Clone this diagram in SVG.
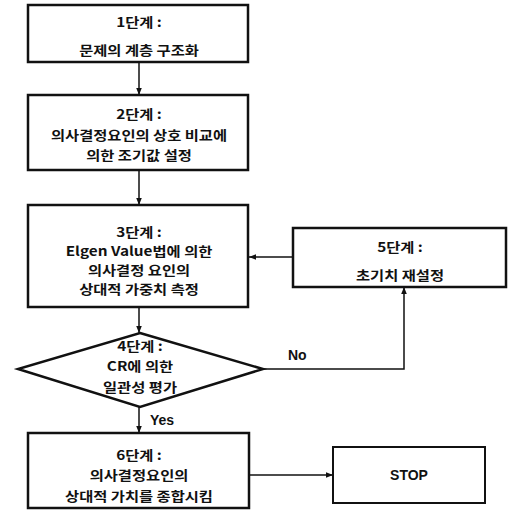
<svg xmlns="http://www.w3.org/2000/svg" width="516" height="521" viewBox="0 0 516 521">
<defs>
<marker id="ah" viewBox="0 0 10 10" refX="10" refY="5" markerWidth="7" markerHeight="7" orient="auto" markerUnits="userSpaceOnUse">
<path d="M0,1 L10,5 L0,9 Z" fill="#111"/>
</marker>
</defs>
<style>
.box{fill:#fff;stroke:#111;stroke-width:2.5}
.thin{fill:#fff;stroke:#111;stroke-width:2}
.t{font-family:"Noto Sans CJK KR","Noto Sans",sans-serif;font-size:13px;font-weight:bold;fill:#111;text-anchor:middle;dominant-baseline:central}
.l{font-family:"Liberation Sans","Noto Sans CJK KR",sans-serif;font-size:14px;font-weight:bold;fill:#111;dominant-baseline:central}
.c{fill:none;stroke:#111;stroke-width:1.5}
</style>
<rect width="516" height="521" fill="#fff"/>
<g id="connectors">
<line class="c" x1="139" y1="62" x2="139" y2="95" marker-end="url(#ah)"/>
<line class="c" x1="139" y1="170" x2="139" y2="205" marker-end="url(#ah)"/>
<line class="c" x1="293" y1="257" x2="249" y2="257" marker-end="url(#ah)"/>
<line class="c" x1="139" y1="307" x2="139" y2="333" marker-end="url(#ah)"/>
<polyline class="c" points="263,369 404,369 404,287" marker-end="url(#ah)"/>
<line class="c" x1="139" y1="407" x2="139" y2="433" marker-end="url(#ah)"/>
<line class="c" x1="249" y1="475" x2="333" y2="475" marker-end="url(#ah)"/>
<text class="l" x="288" y="355">No</text>
<text class="l" x="150" y="420">Yes</text>
</g>
<g id="step1">
<rect class="box" x="28" y="5" width="220" height="57"/>
<g transform="translate(139,0) scale(1.18,1)">
<text class="t" x="0" y="22">1단계 :</text>
<text class="t" x="0" y="50">문제의 계층 구조화</text>
</g>
</g>
<g id="step2">
<rect class="box" x="28" y="95" width="220" height="75"/>
<g transform="translate(139,0) scale(1.18,1)">
<text class="t" x="0" y="114">2단계 :</text>
<text class="t" x="0" y="135">의사결정요인의 상호 비교에</text>
<text class="t" x="0" y="155">의한 조기값 설정</text>
</g>
</g>
<g id="step3">
<rect class="box" x="28" y="205" width="220" height="102"/>
<g transform="translate(139,0) scale(1.18,1)">
<text class="t" x="0" y="232">3단계 :</text>
<text class="t" x="0" y="251">Elgen Value법에 의한</text>
<text class="t" x="0" y="270">의사결정 요인의</text>
<text class="t" x="0" y="289">상대적 가중치 측정</text>
</g>
</g>
<g id="step5">
<rect class="box" x="293" y="228" width="213" height="59"/>
<g transform="translate(400,0) scale(1.18,1)">
<text class="t" x="0" y="247">5단계 :</text>
<text class="t" x="0" y="275">초기치 재설정</text>
</g>
</g>
<g id="step4">
<polygon class="box" points="140,333 263,369 140,407 18,369"/>
<g transform="translate(140,0) scale(1.18,1)">
<text class="t" x="0" y="346">4단계 :</text>
<text class="t" x="0" y="366">CR에 의한</text>
<text class="t" x="0" y="387">일관성 평가</text>
</g>
</g>
<g id="step6">
<rect class="box" x="28" y="433" width="221" height="75"/>
<g transform="translate(139,0) scale(1.18,1)">
<text class="t" x="0" y="455">6단계 :</text>
<text class="t" x="0" y="475">의사결정요인의</text>
<text class="t" x="0" y="496">상대적 가치를 종합시킴</text>
</g>
</g>
<g id="stop">
<rect class="thin" x="333" y="447" width="152" height="56"/>
<text class="l" x="409" y="475" text-anchor="middle">STOP</text>
</g>
</svg>
